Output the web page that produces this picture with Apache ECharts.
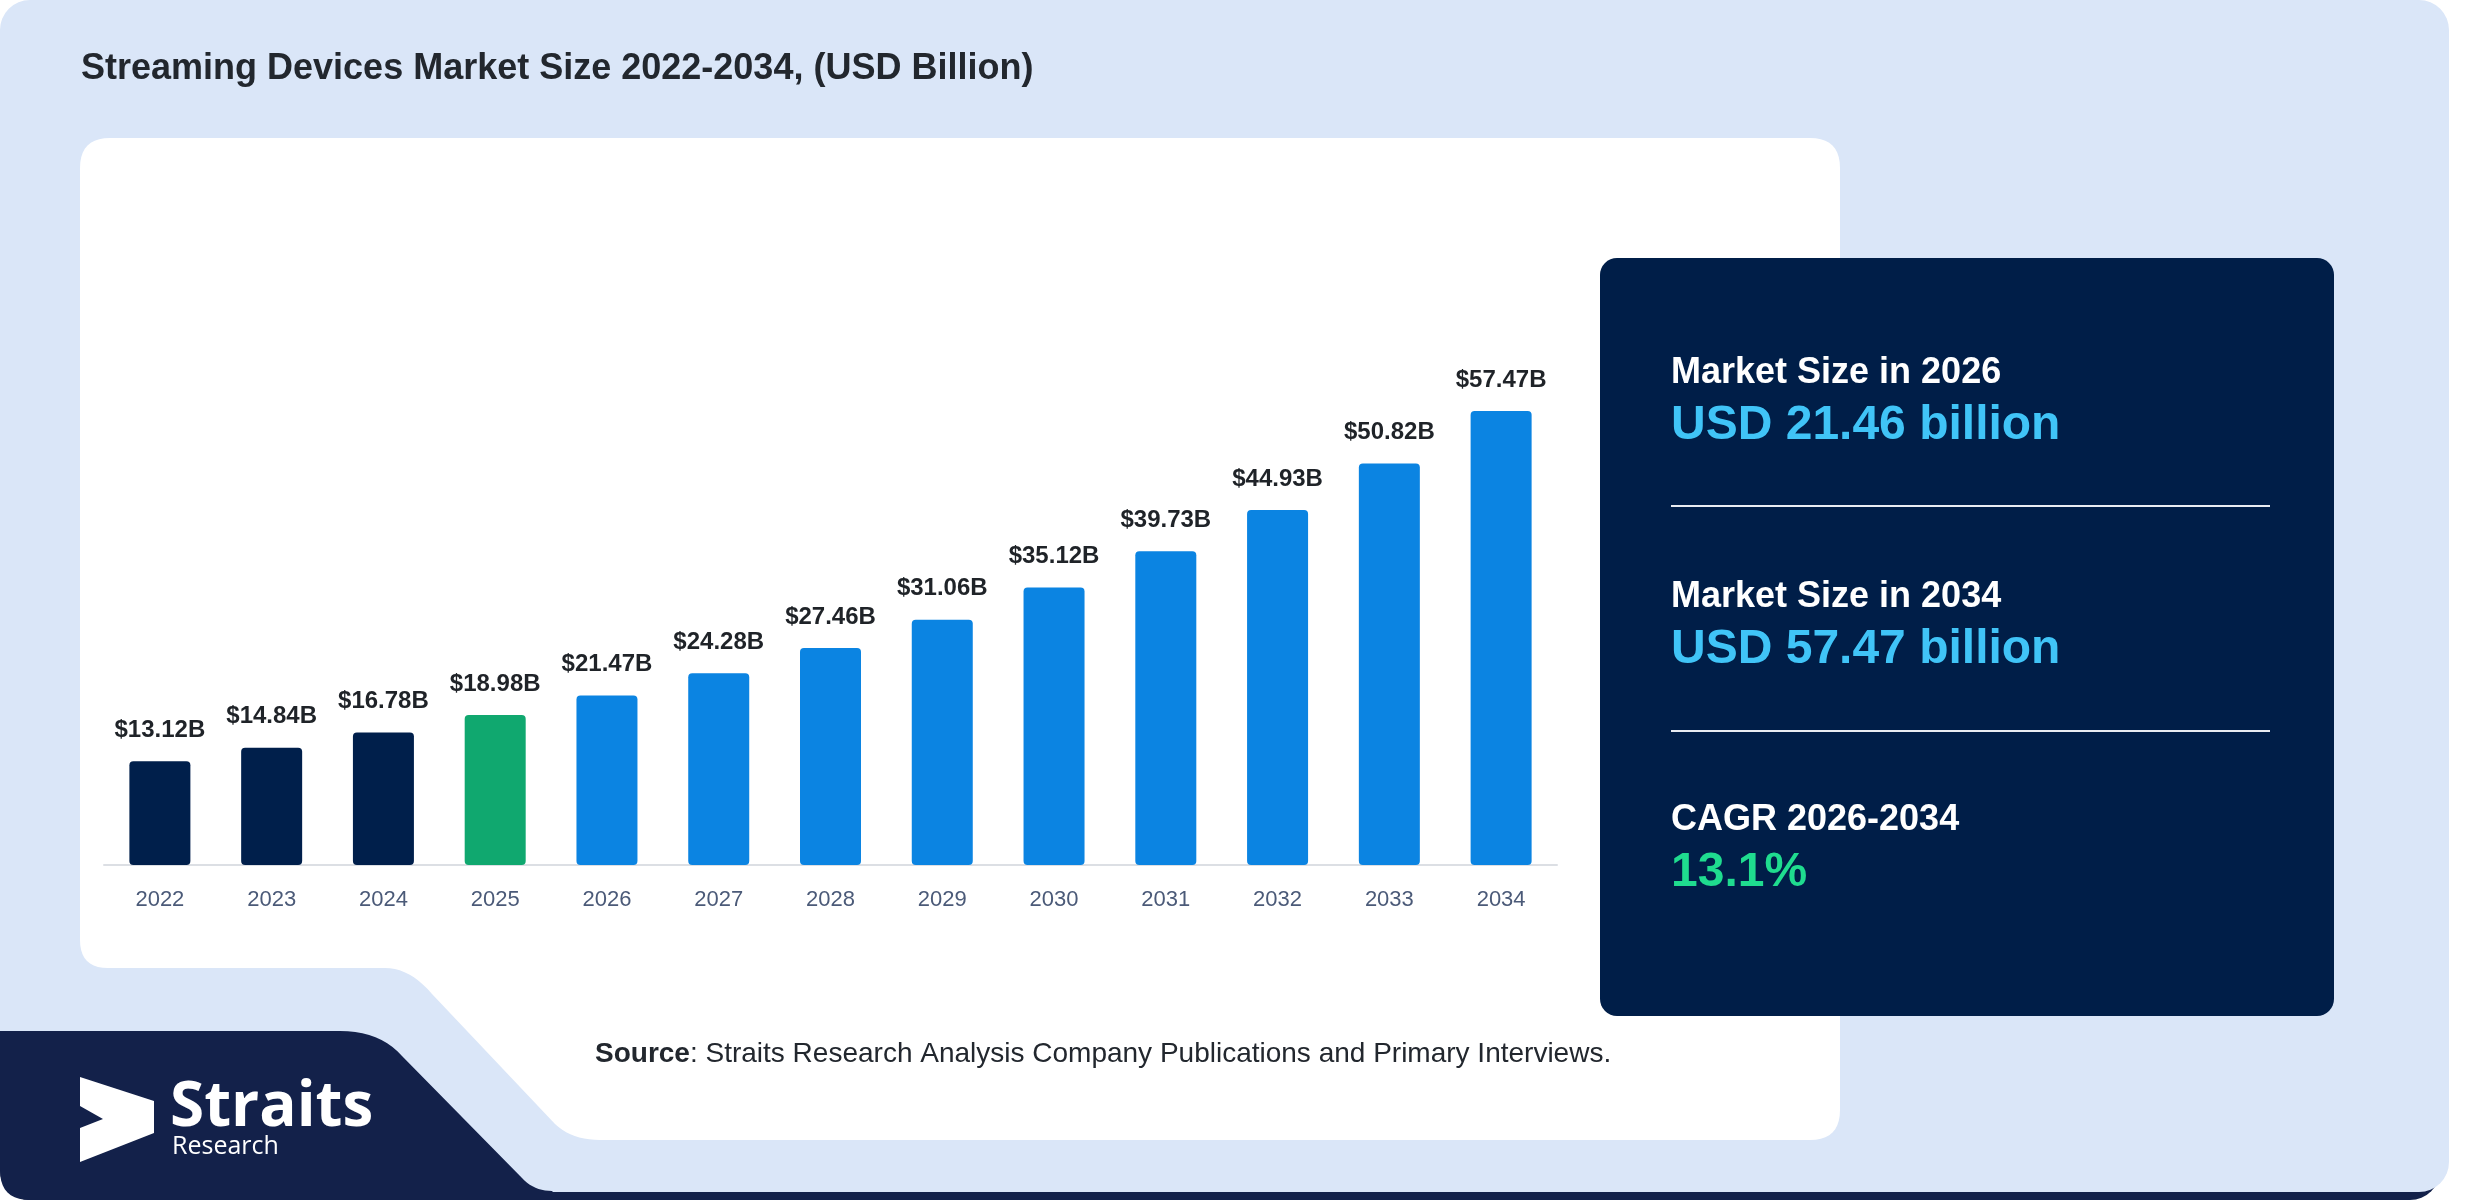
<!DOCTYPE html>
<html>
<head>
<meta charset="utf-8">
<style>
html,body{margin:0;padding:0;background:#ffffff;}
#chart{width:2480px;height:1200px;}
</style>
<script src="https://cdn.jsdelivr.net/npm/echarts@6/dist/echarts.min.js"></script>
</head>
<body>
<div id="chart"></div>
<script>
// ---- data ----
const years = ['2022','2023','2024','2025','2026','2027','2028','2029','2030','2031','2032','2033','2034'];
const marketSize = [13.12,14.84,16.78,18.98,21.47,24.28,27.46,31.06,35.12,39.73,44.93,50.82,57.47];
const historicalYears = ['2022','2023','2024'];
const baseYear = '2025';
const titleText = 'Streaming Devices Market Size 2022-2034, (USD Billion)';
const cardLabels = ['Market Size in 2026','Market Size in 2034','CAGR 2026-2034'];
const cardValues = ['USD 21.46 billion','USD 57.47 billion','13.1%'];
const sourceLabel = 'Source';
const sourceText = ': Straits Research Analysis Company Publications and Primary Interviews.';
const logoName = 'Straits';
const logoSub = 'Research';

// ---- styles ----
const C_NAVY = '#001f4b';
const C_GREEN = '#10a86f';
const C_BLUE = '#0b84e2';
const C_BG = '#dae6f8';
const C_CARD = '#001e48';
const C_LOGO = '#13214a';
const FONT = '"Liberation Sans", Arial, sans-serif';

function barColor(y){
  if (historicalYears.indexOf(y) >= 0) return C_NAVY;
  if (y === baseYear) return C_GREEN;
  return C_BLUE;
}

// convert a simple list of path commands (M/L/Q) into polygon points
function shapePoints(cmds){
  const pts = [];
  let cur = null;
  cmds.forEach(function(c){
    if (c[0] === 'M' || c[0] === 'L') { cur = [c[1], c[2]]; pts.push(cur); }
    else if (c[0] === 'Q') {
      const x0 = cur[0], y0 = cur[1], cx = c[1], cy = c[2], x1 = c[3], y1 = c[4];
      for (let i = 1; i <= 10; i++) {
        const t = i / 10, u = 1 - t;
        pts.push([u*u*x0 + 2*u*t*cx + t*t*x1, u*u*y0 + 2*u*t*cy + t*t*y1]);
      }
      cur = [x1, y1];
    }
  });
  return pts;
}

const whitePanel = shapePoints([
  ['M',110,138],['L',1810,138],['Q',1840,138,1840,168],['L',1840,1110],['Q',1840,1140,1810,1140],
  ['L',600,1140],['Q',572,1140,555,1124],['L',432,994],['Q',410,968,385,968],['L',108,968],
  ['Q',80,968,80,940],['L',80,168],['Q',80,138,110,138]
]);
const logoShape = shapePoints([
  ['M',0,1031],['L',340,1031],['Q',380,1031,402,1056],['L',522,1178],['Q',534,1191,552,1191],
  ['L',560,1200],['L',30,1200],['Q',0,1200,0,1170]
]);

const chart = echarts.init(document.getElementById('chart'), null, {renderer:'canvas'});

const cardColors = ['#40c4f7','#40c4f7','#1fdc8f'];
const cardLabelY = [373, 597, 820];
const cardValueY = [426, 650, 873];
const cardGraphics = [];
cardLabels.forEach(function(t,i){
  cardGraphics.push({type:'text', z:20, x:1671, y:cardLabelY[i],
    style:{text:t, fill:'#ffffff', font:'bold 36px ' + FONT, verticalAlign:'middle', align:'left'}});
  cardGraphics.push({type:'text', z:20, x:1671, y:cardValueY[i],
    style:{text:cardValues[i], fill:cardColors[i], font:'bold 48px ' + FONT, verticalAlign:'middle', align:'left'}});
});

const option = {
  animation:false,
  grid:{left:104, right:923, top:391, bottom:335, containLabel:false},
  xAxis:{
    type:'category', data:years,
    axisLine:{show:true, lineStyle:{color:'#dcdfe4', width:2}},
    axisTick:{show:false},
    axisLabel:{color:'#4b5a78', fontSize:22, fontFamily:FONT, margin:24}
  },
  yAxis:{
    type:'value', min:0, max:60, interval:10,
    show:false, splitLine:{show:false}
  },
  series:[{
    type:'bar', z:5,
    barWidth:61,
    data: years.map(function(y,i){
      return {value:marketSize[i], itemStyle:{color:barColor(y), borderRadius:[4,4,4,4]}};
    }),
    label:{
      show:true, position:'top', distance:19,
      color:'#1f2328', fontWeight:'bold', fontSize:24, fontFamily:FONT,
      formatter:function(p){ return '$' + p.value.toFixed(2) + 'B'; }
    }
  }],
  graphic:[
    {type:'rect', z:-30, shape:{x:0, y:1120, width:2440, height:80, r:30}, style:{fill:C_LOGO}},
    {type:'rect', z:-20, shape:{x:0, y:0, width:2449, height:1192, r:30}, style:{fill:C_BG}},
    {type:'polygon', z:-10, shape:{points:whitePanel}, style:{fill:'#ffffff'}},
    {type:'polygon', z:-5, shape:{points:logoShape}, style:{fill:C_LOGO}},
    {type:'polygon', z:10, shape:{points:[[80,1077],[154,1101],[154,1133],[80,1162],[80,1128],[103,1119],[80,1106]]},
      style:{fill:'#ffffff'}},
    {type:'text', z:10, x:170, y:1108,
      style:{text:logoName, fill:'#ffffff', font:'bold 62px "Open Sans", sans-serif', verticalAlign:'middle', align:'left'}},
    {type:'text', z:10, x:172, y:1147,
      style:{text:logoSub, fill:'#ffffff', font:'25px "Open Sans", sans-serif', verticalAlign:'middle', align:'left'}},
    {type:'text', z:10, x:81, y:69,
      style:{text:titleText, fill:'#22272e', font:'bold 36px ' + FONT, verticalAlign:'middle', align:'left'}},
    {type:'rect', z:-5, shape:{x:1600, y:258, width:734, height:758, r:17}, style:{fill:C_CARD}},
    {type:'line', z:15, shape:{x1:1671, y1:506, x2:2270, y2:506}, style:{stroke:'#e8ecf2', lineWidth:2}},
    {type:'line', z:15, shape:{x1:1671, y1:731, x2:2270, y2:731}, style:{stroke:'#e8ecf2', lineWidth:2}},
    {type:'text', z:10, x:595, y:1054,
      style:{text:'{b|' + sourceLabel + '}{n|' + sourceText + '}', verticalAlign:'middle', align:'left',
        rich:{
          b:{fill:'#22272e', font:'bold 28px ' + FONT},
          n:{fill:'#22272e', font:'28px ' + FONT}
        }}}
  ].concat(cardGraphics)
};
chart.setOption(option);
</script>
</body>
</html>
